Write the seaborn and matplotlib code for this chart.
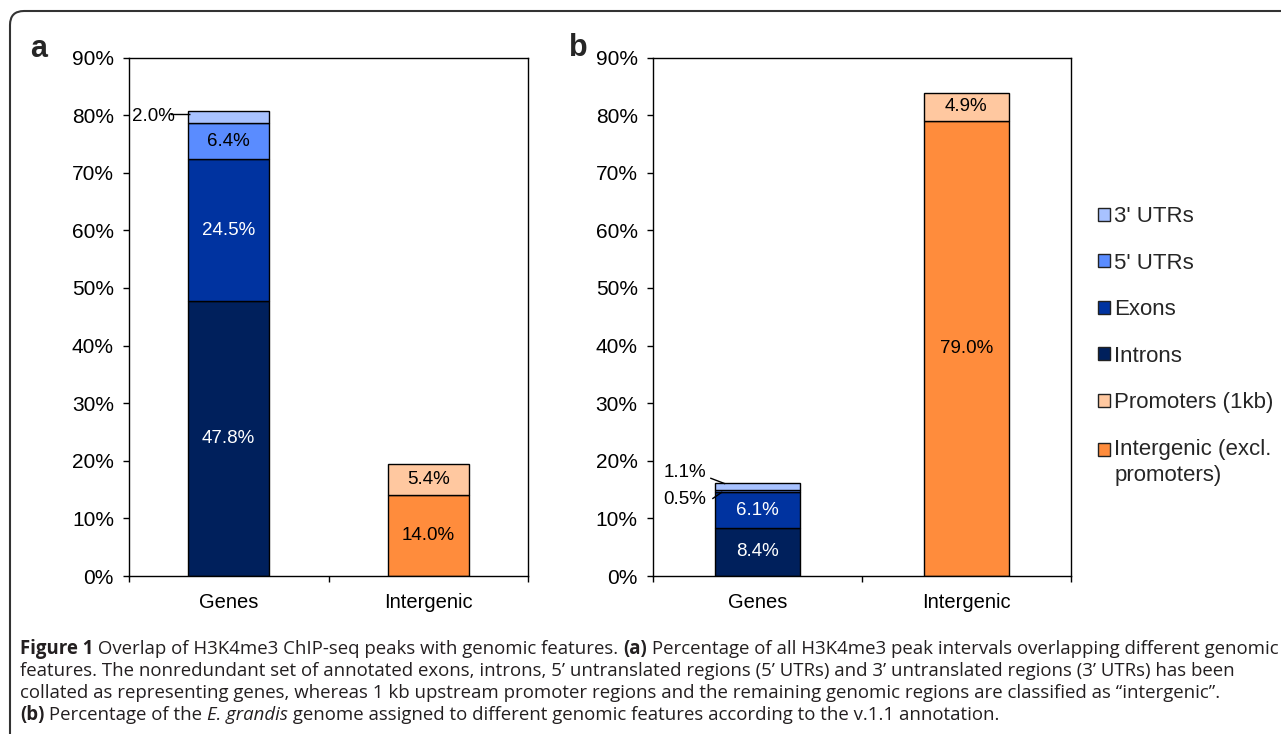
import matplotlib
matplotlib.use("Agg")
import matplotlib.pyplot as plt
import seaborn as sns
from matplotlib.patches import Patch, FancyBboxPatch, Rectangle
from matplotlib.legend_handler import HandlerPatch
from matplotlib.transforms import IdentityTransform

# ---- data -------------------------------------------------------------
categories = ["Genes", "Intergenic"]
gene_parts = ["Introns", "Exons", "5' UTRs", "3' UTRs"]
intergenic_parts = ["Intergenic (excl.\npromoters)", "Promoters (1kb)"]

# (a) share of H3K4me3 peak intervals overlapping each feature (%)
peaks_genes = [47.8, 24.5, 6.4, 2.0]
peaks_intergenic = [14.0, 5.4]
# (b) share of the E. grandis genome assigned to each feature (%)
genome_genes = [8.4, 6.1, 0.5, 1.1]
genome_intergenic = [79.0, 4.9]

y_ticks = [0, 10, 20, 30, 40, 50, 60, 70, 80, 90]
y_tick_labels = [f"{t}%" for t in y_ticks]

legend_order = ["3' UTRs", "5' UTRs", "Exons", "Introns",
                "Promoters (1kb)", "Intergenic (excl.\npromoters)"]

colors = {
    "Introns": "#00205C",
    "Exons": "#0033A0",
    "5' UTRs": "#5A8CFF",
    "3' UTRs": "#A8C2FF",
    "Promoters (1kb)": "#FFC8A0",
    "Intergenic (excl.\npromoters)": "#FF8C3C",
}
text_on = {"Introns": "white", "Exons": "white"}

# small segments labelled outside the bar: (value, text anchor, leader start, leader end)
callouts_a = [(2.0, (-0.27, 79.7), (-0.295, 80.2), (-0.195, 80.2))]
callouts_b = [(1.1, (-0.244, 17.9), (-0.225, 17.0), (-0.153, 16.0)),
              (0.5, (-0.244, 13.2), (-0.215, 13.4), (-0.167, 14.6))]

# ---- style ------------------------------------------------------------
sns.set_theme(style="white")
plt.rcParams["font.family"] = ["Liberation Sans", "DejaVu Sans"]
plt.rcParams["axes.linewidth"] = 1.0

TICK_FS = 15
CAT_FS = 14.5
BAR_FS = 13.5
LEG_FS = 16

fig = plt.figure(figsize=(12.81, 7.34), dpi=100)
W, H = 1281, 734


def ax_rect(x0, x1, ytop, ybot):
    return [x0 / W, 1 - ybot / H, (x1 - x0) / W, (ybot - ytop) / H]


ax_a = fig.add_axes(ax_rect(129, 528, 57.5, 576))
ax_b = fig.add_axes(ax_rect(652.7, 1071, 57.5, 576))


def draw_panel(ax, gene_vals, inter_vals, callouts):
    outside = {c[0] for c in callouts}
    for cat, parts, vals in [("Genes", gene_parts, gene_vals),
                             ("Intergenic", intergenic_parts, inter_vals)]:
        bottom = 0.0
        for part, v in zip(parts, vals):
            sns.barplot(x=[cat], y=[v], order=categories, bottom=bottom,
                        color=colors[part], saturation=1, width=0.405,
                        edgecolor="black", linewidth=1.0, ax=ax)
            if not (cat == "Genes" and v in outside and v < 3):
                ax.text(categories.index(cat), bottom + v / 2, f"{v:.1f}%",
                        ha="center", va="center", fontsize=BAR_FS,
                        color=text_on.get(part, "black"))
            bottom += v
    for v, txt_xy, p0, p1 in callouts:
        ax.text(txt_xy[0], txt_xy[1], f"{v:.1f}%", ha="right", va="center",
                fontsize=BAR_FS, color="black")
        ax.plot([p0[0], p1[0]], [p0[1], p1[1]], color="black", lw=1.0,
                solid_capstyle="butt", zorder=5)

    ax.set_xlim(-0.5, 1.5)
    ax.set_ylim(0, 90)
    ax.set_yticks(y_ticks)
    ax.set_yticklabels(y_tick_labels)
    ax.set_xticks([-0.5, 0.5, 1.5])
    ax.set_xticklabels(["", "", ""])
    ax.set_xticks([0, 1], minor=True)
    ax.set_xticklabels(categories, minor=True)
    ax.tick_params(axis="x", which="major", direction="out", length=4.4,
                   width=1.0, color="black", bottom=True)
    ax.tick_params(axis="x", which="minor", length=0, pad=12,
                   labelsize=CAT_FS, labelcolor="black", bottom=True)
    ax.tick_params(axis="y", direction="out", length=4.6, width=1.0,
                   color="black", left=True, pad=6.2, labelsize=TICK_FS,
                   labelcolor="black")
    ax.set_xlabel("")
    ax.set_ylabel("")
    for s in ax.spines.values():
        s.set_visible(True)
        s.set_color("black")
        s.set_linewidth(1.0)


draw_panel(ax_a, peaks_genes, peaks_intergenic, callouts_a)
draw_panel(ax_b, genome_genes, genome_intergenic, callouts_b)

fig.text(30 / W, 1 - 57 / H, "a", fontsize=22, fontweight="bold",
         ha="left", va="baseline")
fig.text(569 / W, 1 - 56 / H, "b", fontsize=22, fontweight="bold",
         ha="left", va="baseline")


# legend swatches sit beside the first line of a wrapped label
def swatch(legend, orig_handle, xdescent, ydescent, width, height, fontsize):
    n_lines = orig_handle.get_label().count("\n")
    lift = n_lines * 0.58 * fontsize
    return Rectangle((-xdescent, -ydescent + lift), width, height)


handles = [Patch(facecolor=colors[k], edgecolor="#222222", linewidth=1.0,
                 label=k) for k in legend_order]
leg = fig.legend(handles=handles, loc="upper left",
                 bbox_to_anchor=(1098 / W, 1 - 206 / H), frameon=False,
                 fontsize=LEG_FS, handlelength=0.53, handleheight=0.53,
                 handletextpad=0.2, labelspacing=1.15, borderpad=0,
                 borderaxespad=0,
                 handler_map={Patch: HandlerPatch(patch_func=swatch)})
for t in leg.get_texts():
    t.set_linespacing(1.33)

# rounded frame around the figure
fig.patches.append(FancyBboxPatch((10, -40), 1320, 723 + 40,
                                  boxstyle="round,pad=0,rounding_size=14",
                                  transform=IdentityTransform(), fill=False,
                                  edgecolor="#333333", linewidth=1.5))

# ---- caption ------------------------------------------------------------
cap_font = ["Open Sans", "DejaVu Sans"]
CAP_FS = 13.4
cap_color = "#231f20"
caption_lines = [
    [("Figure 1", "bold", "normal"),
     (" Overlap of H3K4me3 ChIP-seq peaks with genomic features. ", "normal", "normal"),
     ("(a)", "bold", "normal"),
     (" Percentage of all H3K4me3 peak intervals overlapping different genomic", "normal", "normal")],
    [("features. The nonredundant set of annotated exons, introns, 5\u2019 untranslated regions (5\u2019 UTRs) and 3\u2019 untranslated regions (3\u2019 UTRs) has been", "normal", "normal")],
    [("collated as representing genes, whereas 1 kb upstream promoter regions and the remaining genomic regions are classified as \u201cintergenic\u201d.", "normal", "normal")],
    [("(b)", "bold", "normal"),
     (" Percentage of the ", "normal", "normal"),
     ("E. grandis", "normal", "italic"),
     (" genome assigned to different genomic features according to the v.1.1 annotation.", "normal", "normal")],
]
baselines = [654, 676, 698, 720]

renderer = fig.canvas.get_renderer()
for runs, base in zip(caption_lines, baselines):
    x = 20.0
    for txt, weight, style in runs:
        t = fig.text(x / W, 1 - base / H, txt, fontsize=CAP_FS,
                     fontweight=weight, fontstyle=style, family=cap_font,
                     color=cap_color, ha="left", va="baseline")
        x = t.get_window_extent(renderer).x1

fig.savefig("out.png", dpi=100)
